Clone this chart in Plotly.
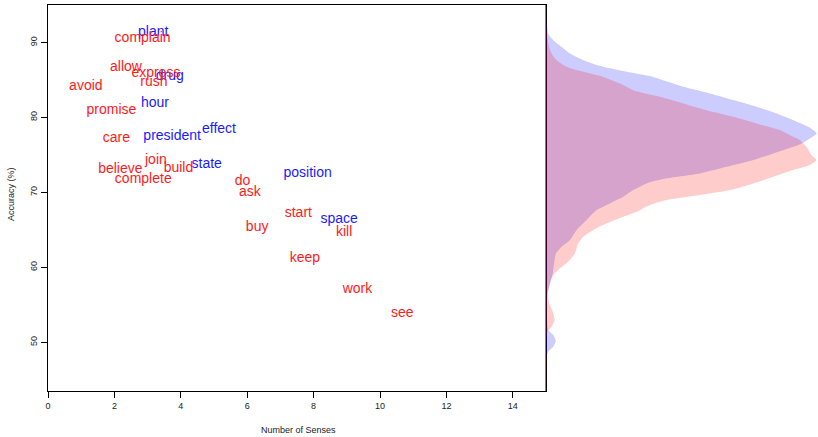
import plotly.graph_objects as go

# ---- word data (number of senses vs accuracy) ----
blue_words = ["plant", "drug", "hour", "effect", "president", "state", "position", "space"]
blue_senses = [3.17, 3.67, 3.22, 5.15, 3.74, 4.78, 7.82, 8.77]
blue_acc = [91.3, 85.45, 81.9, 78.43, 77.45, 73.77, 72.57, 66.4]

red_words = ["complain", "allow", "express", "rush", "avoid", "promise", "care", "join",
             "build", "believe", "complete", "do", "ask", "start", "kill", "buy",
             "keep", "work", "see"]
red_senses = [2.85, 2.35, 3.25, 3.19, 1.14, 1.91, 2.06, 3.25,
              3.93, 2.18, 2.87, 5.86, 6.08, 7.54, 8.92, 6.30,
              7.74, 9.32, 10.67]
red_acc = [90.5, 86.65, 85.9, 84.6, 84.1, 80.97, 77.14, 74.3,
           73.23, 73.05, 71.77, 71.5, 70.03, 67.2, 64.6, 65.3,
           61.23, 57.1, 53.9]

# ---- marginal density curves (accuracy, relative density) ----
blue_dens_acc = [95.0, 93.64, 92.53, 91.20, 90.31, 89.41, 88.53, 87.64, 86.75, 86.08,
                 85.41, 84.75, 84.08, 83.20, 82.31, 81.41, 80.53, 79.64, 78.75, 77.87,
                 77.20, 76.53, 76.08, 75.20, 74.31, 73.41, 72.53, 71.87, 71.20, 70.31,
                 69.41, 68.53, 67.64, 66.31, 64.97, 63.64, 62.75, 61.87, 60.53, 59.20,
                 57.87, 56.53, 53.87, 51.64, 50.97, 50.21, 49.41, 48.75, 47.87, 46.5, 43.5]
blue_dens = [0.0, 0.001, 0.003, 0.008, 0.027, 0.058, 0.089, 0.138, 0.211, 0.298,
             0.396, 0.451, 0.507, 0.605, 0.691, 0.777, 0.851, 0.913, 0.968, 0.999,
             0.974, 0.944, 0.913, 0.839, 0.765, 0.667, 0.568, 0.445, 0.372, 0.322,
             0.285, 0.236, 0.187, 0.150, 0.113, 0.089, 0.058, 0.037, 0.030, 0.025,
             0.015, 0.005, 0.003, 0.008, 0.027, 0.036, 0.027, 0.008, 0.001, 0.0, 0.0]

red_dens_acc = [95.0, 91.20, 88.97, 87.87, 86.75, 86.08, 85.41, 84.53, 83.64, 82.75,
                81.87, 80.97, 80.08, 79.20, 78.31, 77.41, 76.97, 76.08, 74.97, 74.31,
                73.64, 72.97, 72.08, 71.20, 70.31, 69.64, 68.97, 68.31, 67.41, 66.75,
                65.87, 64.97, 64.08, 63.20, 61.87, 60.75, 59.87, 58.97, 57.87, 56.53,
                55.20, 54.08, 52.97, 52.08, 51.41, 50.31, 47.0, 43.5]
red_dens = [0.0, 0.003, 0.015, 0.033, 0.076, 0.138, 0.211, 0.273, 0.322, 0.421,
            0.507, 0.593, 0.691, 0.777, 0.863, 0.913, 0.937, 0.962, 0.980, 0.999,
            0.974, 0.913, 0.839, 0.765, 0.679, 0.568, 0.445, 0.384, 0.335, 0.285,
            0.224, 0.175, 0.138, 0.119, 0.107, 0.082, 0.052, 0.027, 0.015, 0.008,
            0.012, 0.025, 0.032, 0.021, 0.005, 0.001, 0.002, 0.0]

x_ticks = [0, 2, 4, 6, 8, 10, 12, 14]
y_ticks = [50, 60, 70, 80, 90]

FONT = "Liberation Sans, Arial, sans-serif"
W, H = 818, 437
ML, MR, MT, MB = 48, 0, 5, 46
split = (546 - ML) / (W - ML - MR)

fig = go.Figure()

fig.add_trace(go.Scatter(
    x=blue_senses, y=blue_acc, text=blue_words, mode="text",
    textposition="middle center",
    textfont=dict(family=FONT, size=14, color="#1a1aff"),
    hoverinfo="skip", showlegend=False, xaxis="x", yaxis="y"))
fig.add_trace(go.Scatter(
    x=red_senses, y=red_acc, text=red_words, mode="text",
    textposition="middle center",
    textfont=dict(family=FONT, size=14, color="#ff1a1a"),
    hoverinfo="skip", showlegend=False, xaxis="x", yaxis="y"))

fig.add_trace(go.Scatter(
    x=blue_dens, y=blue_dens_acc, mode="lines", fill="tozerox",
    line=dict(width=0, shape="spline", smoothing=0.6),
    fillcolor="rgba(0,0,255,0.2)", hoverinfo="skip", showlegend=False,
    xaxis="x2", yaxis="y2"))
fig.add_trace(go.Scatter(
    x=red_dens, y=red_dens_acc, mode="lines", fill="tozerox",
    line=dict(width=0, shape="spline", smoothing=0.6),
    fillcolor="rgba(255,0,0,0.2)", hoverinfo="skip", showlegend=False,
    xaxis="x2", yaxis="y2"))

axis_font = dict(family=FONT, size=9, color="#222")

fig.update_layout(
    width=W, height=H, autosize=False,
    margin=dict(l=ML, r=MR, t=MT, b=MB, pad=0),
    paper_bgcolor="white", plot_bgcolor="white",
    font=axis_font,
    xaxis=dict(domain=[0, split], range=[0, 15], tickvals=x_ticks,
               ticks="outside", ticklen=6, tickwidth=1, tickcolor="black",
               showline=True, linecolor="black", linewidth=1, mirror=True,
               showgrid=False, zeroline=False, tickfont=axis_font),
    yaxis=dict(range=[43.5, 95], tickvals=y_ticks, tickangle=-90,
               ticks="outside", ticklen=6, tickwidth=1, tickcolor="black",
               showline=True, linecolor="black", linewidth=1, mirror=True,
               showgrid=False, zeroline=False, tickfont=axis_font),
    xaxis2=dict(domain=[split, 1], range=[0, 1.004], visible=False,
                showgrid=False, zeroline=False),
    yaxis2=dict(range=[43.5, 95], anchor="x2", visible=False,
                showgrid=False, zeroline=False),
    shapes=[dict(type="line", xref="x", yref="y", x0=15, x1=15, y0=43.5, y1=95,
                 line=dict(color="#808080", width=2), layer="above")],
    annotations=[
        dict(text="Number of Senses", xref="paper", yref="paper",
             x=(298 - ML) / (W - ML - MR), y=-(430 - (H - MB)) / (H - MT - MB),
             showarrow=False, xanchor="center", yanchor="middle",
             font=dict(family=FONT, size=9, color="#222")),
        dict(text="Accuracy (%)", xref="paper", yref="paper",
             x=(11 - ML) / (W - ML - MR), y=((H - MB) - 194) / (H - MT - MB),
             showarrow=False, xanchor="center", yanchor="middle", textangle=-90,
             font=dict(family=FONT, size=9, color="#222")),
    ],
)

fig.write_html(
    "out.html",
    config={"displayModeBar": False},
    post_script="document.body.style.margin='0';document.body.style.overflow='hidden';",
)
